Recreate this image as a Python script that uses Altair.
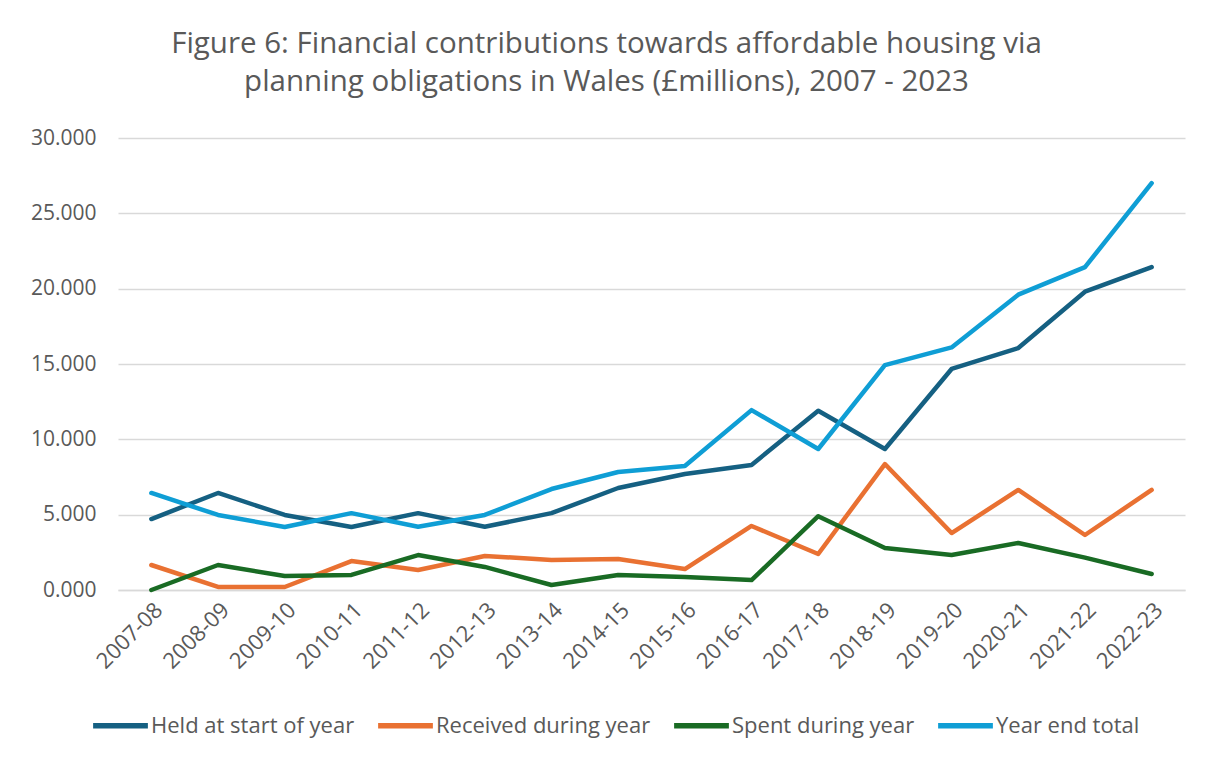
import altair as alt
import pandas as pd

years = ["2007-08", "2008-09", "2009-10", "2010-11", "2011-12", "2012-13", "2013-14", "2014-15",
         "2015-16", "2016-17", "2017-18", "2018-19", "2019-20", "2020-21", "2021-22", "2022-23"]
held = [4.71, 6.44, 4.98, 4.18, 5.10, 4.20, 5.10, 6.77, 7.70, 8.30, 11.90, 9.36, 14.67, 16.06, 19.80, 21.43]
received = [1.66, 0.20, 0.20, 1.92, 1.33, 2.26, 1.99, 2.06, 1.39, 4.25, 2.39, 8.36, 3.78, 6.64, 3.65, 6.64]
spent = [0.00, 1.66, 0.93, 1.00, 2.32, 1.53, 0.33, 1.00, 0.86, 0.66, 4.90, 2.79, 2.32, 3.12, 2.15, 1.06]
year_end = [6.44, 4.98, 4.18, 5.10, 4.20, 4.98, 6.70, 7.83, 8.23, 11.94, 9.36, 14.93, 16.10, 19.60, 21.43, 27.00]

series_names = ["Held at start of year", "Received during year", "Spent during year", "Year end total"]
series_colors = ["#156082", "#E97132", "#196B24", "#0F9ED5"]

rows = []
for name, vals in zip(series_names, [held, received, spent, year_end]):
    for y, v in zip(years, vals):
        rows.append({"Year": y, "Series": name, "Value": v})
df = pd.DataFrame(rows)

FONT = "Open Sans"
GREY = "#595959"

chart = alt.Chart(df).mark_line(strokeWidth=4.5, strokeCap="round", strokeJoin="round").encode(
    x=alt.X("Year:N", sort=years, title=None,
            axis=alt.Axis(labelAngle=-45, labelFontSize=22, labelColor=GREY, labelFont=FONT,
                          ticks=False, domain=True, domainColor="#D9D9D9", domainWidth=1.5,
                          labelPadding=9, grid=False)),
    y=alt.Y("Value:Q", title=None,
            scale=alt.Scale(domain=[0, 30], nice=False),
            axis=alt.Axis(values=[0, 5, 10, 15, 20, 25, 30], format=".3f", labelFontSize=21,
                          labelColor=GREY, labelFont=FONT, ticks=False, domain=False,
                          gridColor="#D9D9D9", gridWidth=1.5, labelPadding=22)),
    color=alt.Color("Series:N", sort=series_names,
                    scale=alt.Scale(domain=series_names, range=series_colors),
                    legend=alt.Legend(title=None, orient="none", direction="horizontal",
                                      legendX=-28, legendY=557,
                                      symbolType="stroke", symbolSize=3000, symbolStrokeWidth=5.5,
                                      labelFontSize=22, labelColor=GREY, labelFont=FONT,
                                      labelLimit=0, labelOffset=0, columnPadding=12)),
).properties(
    width=1067, height=452,
    title=alt.TitleParams(
        text=["Figure 6: Financial contributions towards affordable housing via",
              "planning obligations in Wales (£millions), 2007 - 2023"],
        fontSize=29.5, font=FONT, fontWeight="normal", color=GREY,
        anchor="middle", dx=-45, offset=30, lineHeight=38),
    autosize=alt.AutoSizeParams(type="none"),
    padding={"left": 110, "top": 130, "right": 13, "bottom": 163},
).configure_view(stroke=None)

chart.save("out.html", embed_options={"renderer": "svg", "actions": False})
